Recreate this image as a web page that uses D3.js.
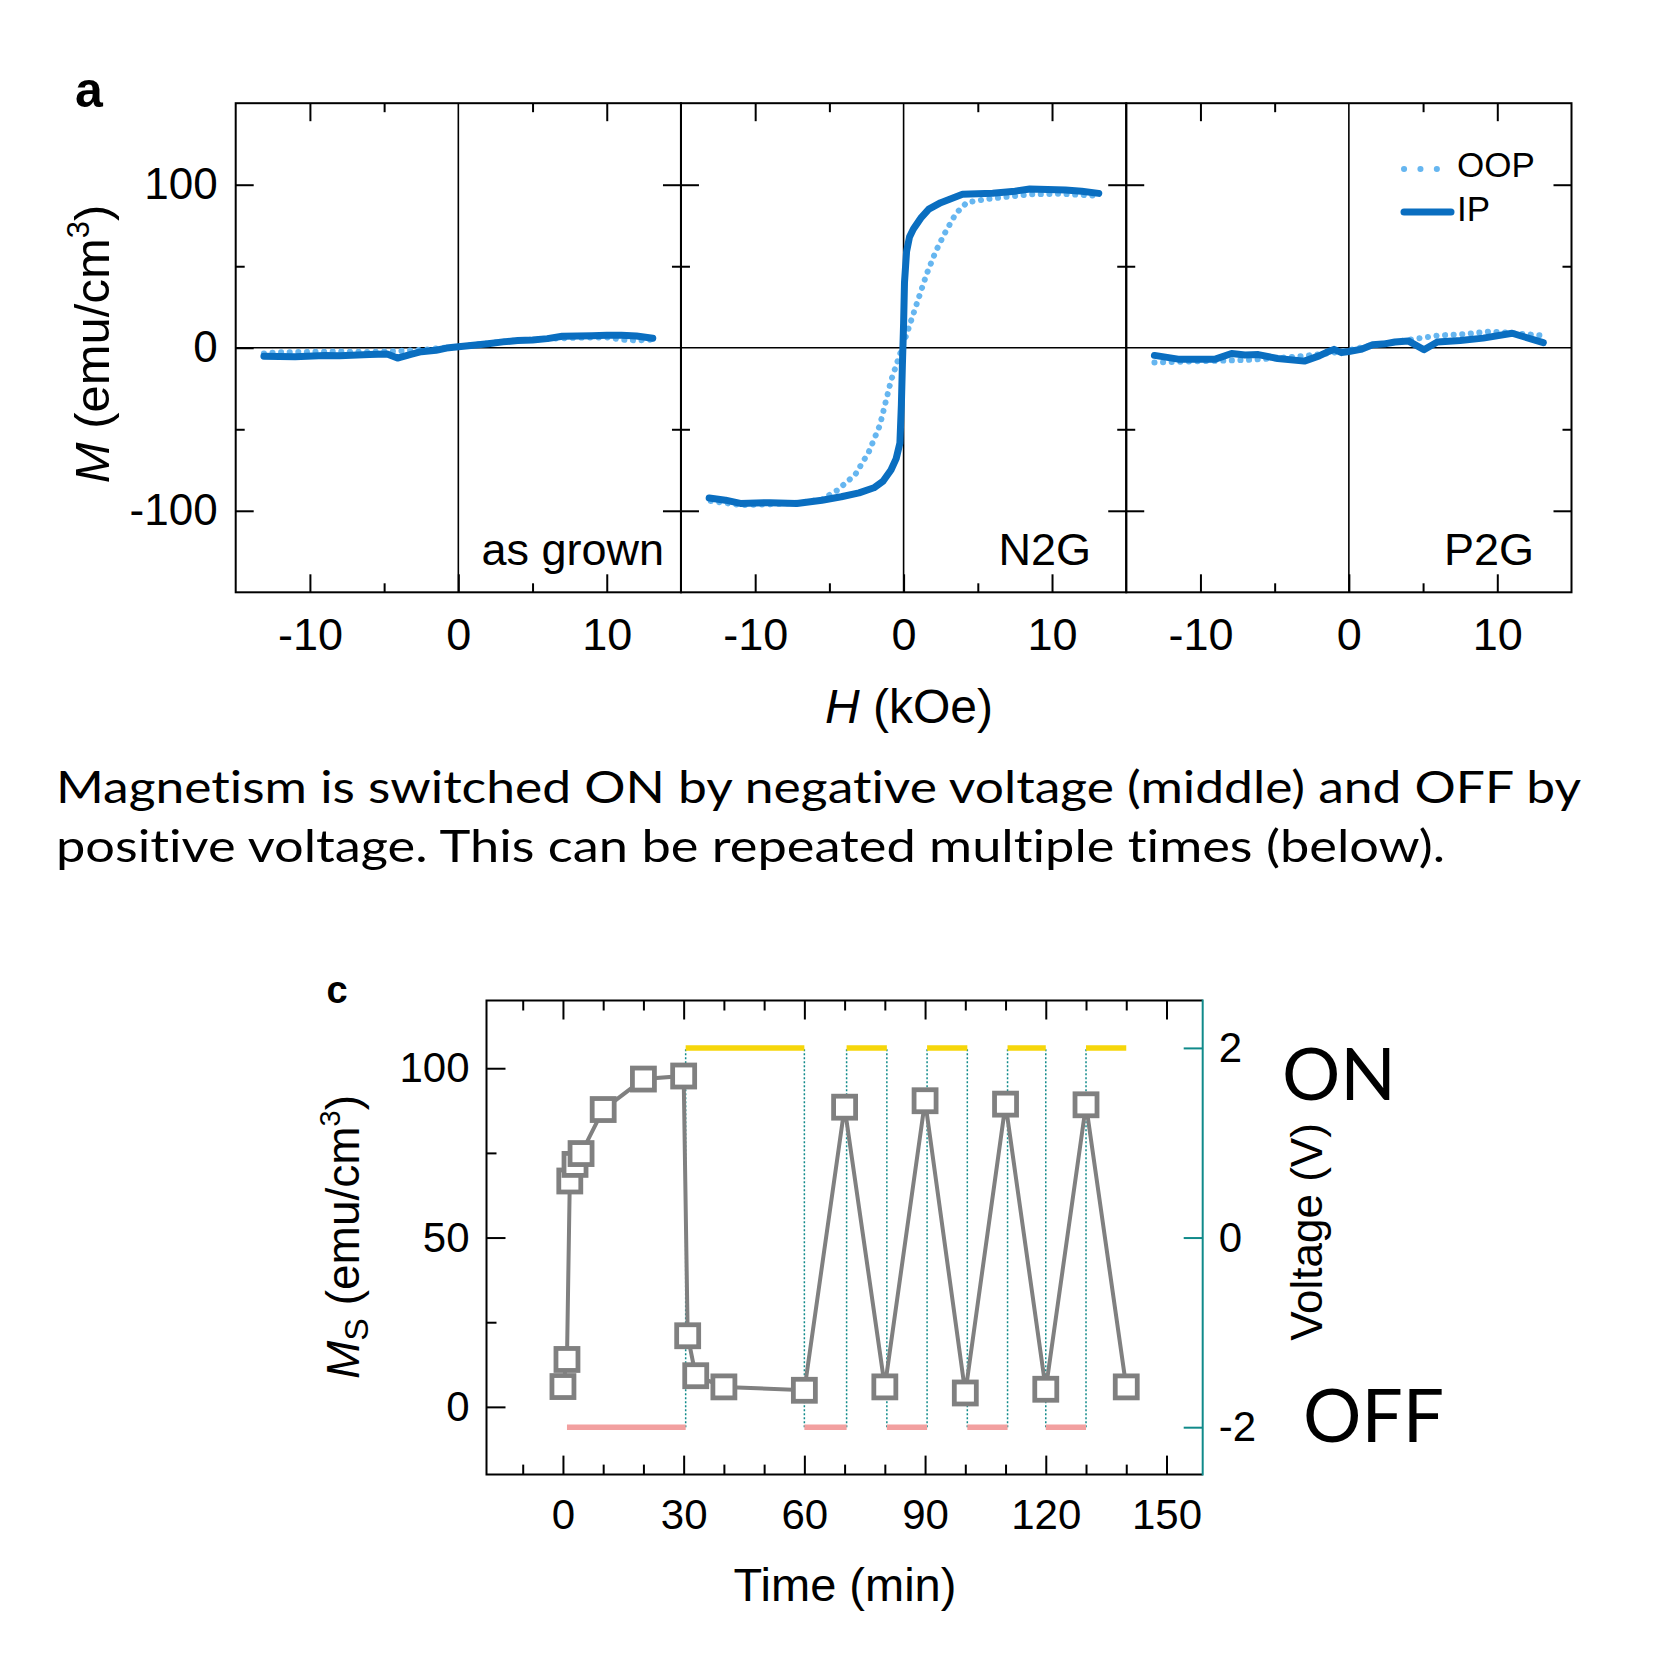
<!DOCTYPE html>
<html>
<head>
<meta charset="utf-8">
<script src="https://cdn.jsdelivr.net/npm/d3@7"></script>
<style>
  body { margin: 0; background: #fff; }
  svg { display: block; }
  text { font-variant-ligatures: none; }
</style>
</head>
<body>
<div id="chart"></div>
<script>
// ---- panel a: M(H) loops, [H kOe, M emu/cm3] ----
const panelNames = ["as grown", "N2G", "P2G"];

const asGrownIP = [[-13.1,-5.2],[-11,-5.5],[-9,-4.8],[-8,-4.9],[-6,-4.2],[-4.8,-3.8],[-4.1,-6.3],[-3.2,-4],[-2.5,-2.4],
  [-1.5,-1.5],[-0.8,-0.2],[0,0.6],[1,1.5],[2,2.4],[3,3.6],[4,4.4],[5,4.8],[6,5.6],[7,7.1],[8,7.2],[9,7.4],[10,7.6],
  [11,7.7],[12,7.2],[13.1,5.8]];
const asGrownOOP = [[-13.1,-3.5],[-12,-2.8],[-10,-2.5],[-8,-2.3],[-6,-2.6],[-4,-2],[-2,-1],[-1,0],[0,0.8],[2,2.8],
  [4,4.6],[6,5.5],[8,6.2],[10,6.3],[11,5],[12,4.5],[13,5]];

const n2gIP = [[-13.1,-92.2],[-12,-93.5],[-11,-95.5],[-9,-95],[-7.2,-95.5],[-5.5,-93.5],[-4.2,-91.4],[-3,-89],[-2,-85.9],
  [-1.4,-82],[-0.85,-75],[-0.5,-68],[-0.25,-58.5],[-0.15,-35],[-0.08,-10],[0,15],[0.06,40],[0.2,59],[0.4,68],
  [0.66,72.8],[1.2,80],[1.7,85],[2.5,89],[3.97,94.1],[6,94.7],[7.5,96],[8.5,97.4],[10.9,96.8],[12,96],[13.15,94.7]];
const n2gOOP = [[-13,-94],[-11,-96.5],[-9,-96],[-7,-95],[-5.5,-93],[-4.45,-87.3],[-3.25,-77.7],[-2.35,-64],[-1.6,-47.6],
  [-0.85,-20.2],[-0.24,-3.8],[0.36,12.6],[0.96,29],[1.56,45.4],[2.16,59],[2.76,70],[3.52,82.3],[4.27,89.2],
  [5.78,91.4],[8.48,94.1],[10.5,94.5],[13,93.3]];

const p2gIP = [[-13.1,-4.7],[-11.5,-7],[-9,-7],[-7.9,-3.5],[-7,-4.5],[-6.1,-4.2],[-4.8,-6.6],[-3,-8.2],[-2,-5],
  [-1.5,-2.8],[-1,-1],[-0.5,-3],[0,-2.3],[0.8,-1],[1.6,1.9],[2.5,2.5],[3.1,3.5],[4,4.2],[5.06,-1.2],[5.96,3.5],
  [7.5,4.5],[9.05,5.9],[11,8.9],[13.1,3.1]];
const p2gOOP = [[-13.1,-9],[-11,-8.5],[-9,-8],[-7,-7.5],[-5,-6.5],[-3,-5],[-1,-3],[0,-1.5],[1.5,1.5],[3,3.5],
  [4.5,5.5],[6,7.5],[8,8.5],[9.5,10],[11,9],[13,7.5]];

const ipSeries = [asGrownIP, n2gIP, p2gIP];
const oopSeries = [asGrownOOP, n2gOOP, p2gOOP];

const hMajor = [-10, 0, 10];
const hMinor = [-5, 5];
const mMajor = [-100, 0, 100];
const mMinor = [-50, 50];

// ---- panel c: Ms vs time, gate voltage ----
const timeMin = [0, 1, 1.7, 3, 4.5, 10, 20, 30, 31, 33, 40, 60, 70, 80, 90, 100, 110, 120, 130, 140];
const msValues = [6, 14, 66.7, 71.6, 74.8, 87.8, 96.8, 97.7, 21, 9.2, 5.9, 4.9, 88.5, 5.9, 90.4, 4.1, 89.4, 5.2, 89.2, 5.9];

const voltStart = [1, 30.5, 60, 70.5, 80.5, 90.5, 100.5, 110.5, 120, 130];
const voltEnd   = [30.5, 60, 70.5, 80.5, 90.5, 100.5, 110.5, 120, 130, 140];
const voltLevel = [-2, 2, -2, 2, -2, 2, -2, 2, -2, 2];

const timeMajor = [0, 30, 60, 90, 120, 150];
const timeMinor = [-10, 10, 20, 40, 50, 70, 80, 100, 110, 130, 140];
const msMajor = [0, 50, 100];
const msMinor = [25, 75];
const voltTicks = [-2, 0, 2];

const captionLines = [
  "Magnetism is switched ON by negative voltage (middle) and OFF by",
  "positive voltage. This can be repeated multiple times (below)."
];

const ARIAL = "'Liberation Sans', Arial, sans-serif";
const CAPTION = "Lato, 'Open Sans', sans-serif";
const ipColor = "#0a6ec0";
const oopColor = "#66b6f0";
const gray = "#808080";
const teal = "#108a8a";
const plain = d => String(d);   // keep the hyphen minus of the original

const svg = d3.select("#chart").append("svg")
  .attr("width", 1663)
  .attr("height", 1656);

svg.append("rect").attr("width", 1663).attr("height", 1656).attr("fill", "#fff");

// style helper for d3 axes: drop the domain path, thicken ticks, set fonts
function styleAxis(g, fontSize, color) {
  g.select(".domain").remove();
  g.selectAll(".tick line").attr("stroke", color || "#000").attr("stroke-width", 2);
  g.selectAll(".tick text")
    .attr("fill", "#000")
    .attr("font-family", ARIAL)
    .attr("font-size", fontSize);
}

// ================= panel a =================
const aLeft = 235.7, aRight = 1571.5, aTop = 103.2, aBottom = 592.3;
const pw = (aRight - aLeft) / 3;

const yA = d3.scaleLinear().domain([-150, 150]).range([aBottom, aTop]);

panelNames.forEach((name, i) => {
  const x = d3.scaleLinear().domain([-15, 15]).range([aLeft + i * pw, aLeft + (i + 1) * pw]);
  const g = svg.append("g");

  // zero lines
  g.append("line")
    .attr("x1", x(0)).attr("x2", x(0)).attr("y1", aTop).attr("y2", aBottom)
    .attr("stroke", "#000").attr("stroke-width", 1.6);
  g.append("line")
    .attr("x1", x(-15)).attr("x2", x(15)).attr("y1", yA(0)).attr("y2", yA(0))
    .attr("stroke", "#000").attr("stroke-width", 1.6);

  const line = d3.line().x(d => x(d[0])).y(d => yA(d[1])).curve(d3.curveLinear);

  g.append("path")
    .attr("d", line(oopSeries[i]))
    .attr("fill", "none")
    .attr("stroke", oopColor)
    .attr("stroke-width", 6)
    .attr("stroke-linecap", "round")
    .attr("stroke-dasharray", "0.1 8.5");

  g.append("path")
    .attr("d", line(ipSeries[i]))
    .attr("fill", "none")
    .attr("stroke", ipColor)
    .attr("stroke-width", 7)
    .attr("stroke-linejoin", "round")
    .attr("stroke-linecap", "round");

  // ticks (inward) on all four sides
  g.append("g").attr("transform", `translate(0,${aBottom})`)
    .call(d3.axisBottom(x).tickValues(hMajor).tickSizeInner(-18).tickSizeOuter(0).tickPadding(26).tickFormat(plain))
    .call(a => styleAxis(a, 45));
  g.append("g").attr("transform", `translate(0,${aBottom})`)
    .call(d3.axisBottom(x).tickValues(hMinor).tickSizeInner(-9).tickSizeOuter(0).tickFormat(""))
    .call(a => styleAxis(a, 45));
  g.append("g").attr("transform", `translate(0,${aTop})`)
    .call(d3.axisTop(x).tickValues(hMajor.filter(v => v !== 0)).tickSizeInner(-18).tickSizeOuter(0).tickFormat(""))
    .call(a => styleAxis(a, 45));
  g.append("g").attr("transform", `translate(0,${aTop})`)
    .call(d3.axisTop(x).tickValues(hMinor).tickSizeInner(-9).tickSizeOuter(0).tickFormat(""))
    .call(a => styleAxis(a, 45));

  const leftAxis = d3.axisLeft(yA).tickValues(mMajor.filter(v => v !== 0)).tickSizeInner(-18).tickSizeOuter(0);
  if (i === 0) {
    leftAxis.tickValues(mMajor).tickPadding(18).tickFormat(plain);
  } else {
    leftAxis.tickFormat("");
  }
  g.append("g").attr("transform", `translate(${x(-15)},0)`)
    .call(leftAxis)
    .call(a => styleAxis(a, 44));
  g.append("g").attr("transform", `translate(${x(-15)},0)`)
    .call(d3.axisLeft(yA).tickValues(mMinor).tickSizeInner(-9).tickSizeOuter(0).tickFormat(""))
    .call(a => styleAxis(a, 44));
  g.append("g").attr("transform", `translate(${x(15)},0)`)
    .call(d3.axisRight(yA).tickValues(mMajor.filter(v => v !== 0)).tickSizeInner(-18).tickSizeOuter(0).tickFormat(""))
    .call(a => styleAxis(a, 44));
  g.append("g").attr("transform", `translate(${x(15)},0)`)
    .call(d3.axisRight(yA).tickValues(mMinor).tickSizeInner(-9).tickSizeOuter(0).tickFormat(""))
    .call(a => styleAxis(a, 44));

  // frame
  g.append("rect")
    .attr("x", x(-15)).attr("y", aTop)
    .attr("width", x(15) - x(-15)).attr("height", aBottom - aTop)
    .attr("fill", "none").attr("stroke", "#000").attr("stroke-width", 2);
});

// sample names inside panels
const nameRight = [664, 1091, 1534];
panelNames.forEach((name, i) => {
  svg.append("text")
    .attr("x", nameRight[i]).attr("y", 565)
    .attr("text-anchor", "end")
    .attr("font-family", ARIAL).attr("font-size", 45)
    .text(name);
});

// legend (in P2G panel)
svg.append("line")
  .attr("x1", 1404).attr("x2", 1437).attr("y1", 169).attr("y2", 169)
  .attr("stroke", oopColor).attr("stroke-width", 6)
  .attr("stroke-linecap", "round").attr("stroke-dasharray", "0.1 16.3");
svg.append("text").attr("x", 1457).attr("y", 177)
  .attr("font-family", ARIAL).attr("font-size", 35).text("OOP");
svg.append("line")
  .attr("x1", 1404).attr("x2", 1451).attr("y1", 212).attr("y2", 212)
  .attr("stroke", ipColor).attr("stroke-width", 7).attr("stroke-linecap", "round");
svg.append("text").attr("x", 1457).attr("y", 221)
  .attr("font-family", ARIAL).attr("font-size", 35).text("IP");

// panel letter and axis titles
svg.append("text").attr("x", 89).attr("y", 107).attr("text-anchor", "middle")
  .attr("font-family", ARIAL).attr("font-weight", "bold").attr("font-size", 50).text("a");

const yTitleA = svg.append("text")
  .attr("transform", `translate(109,344) rotate(-90)`)
  .attr("text-anchor", "middle")
  .attr("font-family", ARIAL).attr("font-size", 49);
yTitleA.append("tspan").attr("font-style", "italic").text("M");
yTitleA.append("tspan").text(" (emu/cm");
yTitleA.append("tspan").attr("font-size", 31).attr("dy", -20).text("3");
yTitleA.append("tspan").attr("dy", 20).text(")");

const xTitleA = svg.append("text")
  .attr("x", 909).attr("y", 723)
  .attr("text-anchor", "middle")
  .attr("font-family", ARIAL).attr("font-size", 48);
xTitleA.append("tspan").attr("font-style", "italic").text("H");
xTitleA.append("tspan").text(" (kOe)");

// ================= caption =================
const captionLength = [1525, 1389];
captionLines.forEach((t, i) => {
  svg.append("text")
    .attr("x", 56).attr("y", 803.3 + i * 58.4)
    .attr("font-family", CAPTION).attr("font-size", 44)
    .attr("textLength", captionLength[i]).attr("lengthAdjust", "spacingAndGlyphs")
    .text(t);
});

// ================= panel c =================
const cLeft = 486.5, cRight = 1202.7, cTop = 1000.5, cBottom = 1474.6;
const xC = d3.scaleLinear().domain([-19, 159]).range([cLeft, cRight]);
const yC = d3.scaleLinear().domain([-20, 120]).range([cBottom, cTop]);
const yV = d3.scaleLinear().domain([-2.5, 2.5]).range([cBottom, cTop]);

const gc = svg.append("g");

// gate voltage: coloured plateaus, dotted transitions
const transitions = voltStart.slice(1);
gc.append("g").selectAll("line")
  .data(transitions)
  .join("line")
  .attr("x1", d => xC(d)).attr("x2", d => xC(d))
  .attr("y1", yV(-2)).attr("y2", yV(2))
  .attr("stroke", teal).attr("stroke-width", 1.5)
  .attr("stroke-dasharray", "2 2");

gc.append("g").selectAll("line")
  .data(voltLevel.map((v, i) => ({ v, t0: voltStart[i], t1: voltEnd[i] })))
  .join("line")
  .attr("x1", d => xC(d.t0)).attr("x2", d => xC(d.t1))
  .attr("y1", d => yV(d.v)).attr("y2", d => yV(d.v))
  .attr("stroke", d => d.v > 0 ? "#f6d60a" : "#f2a0a0")
  .attr("stroke-width", 5.5);

// Ms data
const msPoints = timeMin.map((t, i) => [t, msValues[i]]);
gc.append("path")
  .attr("d", d3.line().x(d => xC(d[0])).y(d => yC(d[1]))(msPoints))
  .attr("fill", "none")
  .attr("stroke", gray)
  .attr("stroke-width", 4);

gc.append("g").selectAll("rect")
  .data(msPoints)
  .join("rect")
  .attr("x", d => xC(d[0]) - 11)
  .attr("y", d => yC(d[1]) - 11)
  .attr("width", 22).attr("height", 22)
  .attr("fill", "#fff")
  .attr("stroke", gray)
  .attr("stroke-width", 4.8);

// axes
gc.append("g").attr("transform", `translate(0,${cBottom})`)
  .call(d3.axisBottom(xC).tickValues(timeMajor).tickSizeInner(-19).tickSizeOuter(0).tickPadding(25).tickFormat(plain))
  .call(a => styleAxis(a, 42));
gc.append("g").attr("transform", `translate(0,${cBottom})`)
  .call(d3.axisBottom(xC).tickValues(timeMinor).tickSizeInner(-10).tickSizeOuter(0).tickFormat(""))
  .call(a => styleAxis(a, 42));
gc.append("g").attr("transform", `translate(0,${cTop})`)
  .call(d3.axisTop(xC).tickValues(timeMajor).tickSizeInner(-19).tickSizeOuter(0).tickFormat(""))
  .call(a => styleAxis(a, 42));
gc.append("g").attr("transform", `translate(0,${cTop})`)
  .call(d3.axisTop(xC).tickValues(timeMinor).tickSizeInner(-10).tickSizeOuter(0).tickFormat(""))
  .call(a => styleAxis(a, 42));
gc.append("g").attr("transform", `translate(${cLeft},0)`)
  .call(d3.axisLeft(yC).tickValues(msMajor).tickSizeInner(-19).tickSizeOuter(0).tickPadding(17).tickFormat(plain))
  .call(a => styleAxis(a, 42));
gc.append("g").attr("transform", `translate(${cLeft},0)`)
  .call(d3.axisLeft(yC).tickValues(msMinor).tickSizeInner(-10).tickSizeOuter(0).tickFormat(""))
  .call(a => styleAxis(a, 42));
gc.append("g").attr("transform", `translate(${cRight},0)`)
  .call(d3.axisRight(yV).tickValues(voltTicks).tickSizeInner(-19).tickSizeOuter(0).tickPadding(16).tickFormat(plain))
  .call(a => styleAxis(a, 42, teal));

// frame: black left/top/bottom, teal right
gc.append("path")
  .attr("d", `M${cRight},${cTop}H${cLeft}V${cBottom}H${cRight}`)
  .attr("fill", "none").attr("stroke", "#000").attr("stroke-width", 2);
gc.append("line")
  .attr("x1", cRight).attr("x2", cRight).attr("y1", cTop - 1).attr("y2", cBottom + 1)
  .attr("stroke", teal).attr("stroke-width", 2);

svg.append("text").attr("x", 337).attr("y", 1003).attr("text-anchor", "middle")
  .attr("font-family", ARIAL).attr("font-weight", "bold").attr("font-size", 38).text("c");

const yTitleC = svg.append("text")
  .attr("transform", `translate(359,1237) rotate(-90)`)
  .attr("text-anchor", "middle")
  .attr("font-family", ARIAL).attr("font-size", 46);
yTitleC.append("tspan").attr("font-style", "italic").text("M");
yTitleC.append("tspan").attr("font-size", 34).attr("dy", 9).text("S");
yTitleC.append("tspan").attr("dy", -9).text(" (emu/cm");
yTitleC.append("tspan").attr("font-size", 29).attr("dy", -19).text("3");
yTitleC.append("tspan").attr("dy", 19).text(")");

svg.append("text").attr("x", 845).attr("y", 1601).attr("text-anchor", "middle")
  .attr("font-family", ARIAL).attr("font-size", 47).text("Time (min)");

svg.append("text")
  .attr("transform", `translate(1322,1232) rotate(-90)`)
  .attr("text-anchor", "middle")
  .attr("font-family", ARIAL).attr("font-size", 44).text("Voltage (V)");

svg.append("text").attr("x", 1282).attr("y", 1100.4)
  .attr("font-family", CAPTION).attr("font-size", 72)
  .attr("textLength", 114).attr("lengthAdjust", "spacingAndGlyphs").text("ON");
svg.append("text").attr("x", 1303).attr("y", 1442.4)
  .attr("font-family", CAPTION).attr("font-size", 73)
  .attr("textLength", 141).attr("lengthAdjust", "spacingAndGlyphs").text("OFF");
</script>
</body>
</html>
